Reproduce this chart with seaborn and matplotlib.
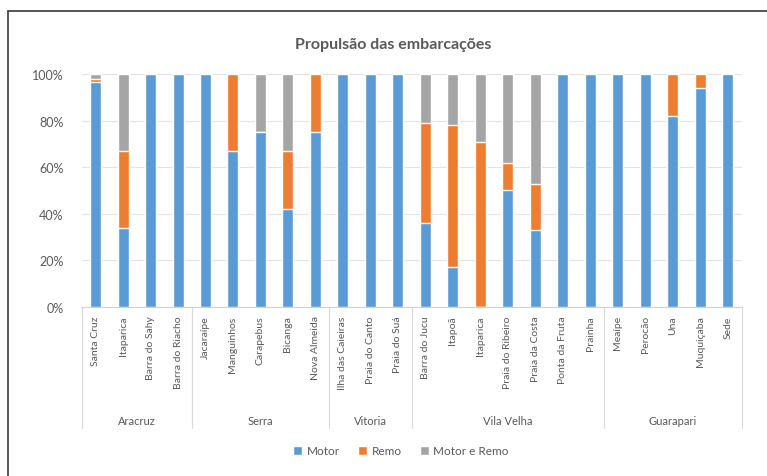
# Propulsao das embarcacoes - stacked 100% bars by locality
import numpy as np
import pandas as pd
import matplotlib.pyplot as plt
from matplotlib.lines import Line2D
from matplotlib.patches import Patch
from matplotlib.ticker import PercentFormatter
import seaborn as sns

# %%
# data (shares, %)
localidades = ['Santa Cruz', 'Itaparica', 'Barra do Sahy', 'Barra do Riacho',
               'Jacaraípe', 'Manguinhos', 'Carapebus', 'Bicanga', 'Nova Almeida',
               'Ilha das Caieiras', 'Praia do Canto', 'Praia do Suá',
               'Barra do Jucu', 'Itapoã', 'Itaparica', 'Praia do Ribeiro',
               'Praia da Costa', 'Ponta da Fruta', 'Prainha',
               'Meaípe', 'Perocão', 'Una', 'Muquiçaba', 'Sede']
municipios = ['Aracruz', 'Serra', 'Vitoria', 'Vila Velha', 'Guarapari']
n_por_municipio = [4, 5, 3, 7, 5]

motor = [96.5, 34, 100, 100, 100, 67, 75, 42, 75, 100, 100, 100,
         36, 17, 0, 50, 33, 100, 100, 100, 100, 82, 94, 100]
remo = [1.3, 33, 0, 0, 0, 33, 0, 25, 25, 0, 0, 0,
        43, 61, 71, 12, 20, 0, 0, 0, 0, 18, 6, 0]
motor_remo = [2.2, 33, 0, 0, 0, 0, 25, 33, 0, 0, 0, 0,
              21, 22, 29, 38, 47, 0, 0, 0, 0, 0, 0, 0]

cores = {'Motor': '#5B9BD5', 'Remo': '#ED7D31', 'Motor e Remo': '#A5A5A5'}
txt = '#595959'

# %%
df = pd.DataFrame({'pos': np.arange(len(localidades)),
                   'motor': motor, 'remo': remo, 'motor_remo': motor_remo})
df['top2'] = df['motor'] + df['remo']
df['top3'] = df['top2'] + df['motor_remo']
for c in ['motor', 'top2', 'top3']:
    df[c] = df[c] / 100

sns.set_style('white')
plt.rcParams['font.family'] = ['Lato', 'DejaVu Sans']

fig = plt.figure(figsize=(7.67, 4.77), dpi=100)
ax = fig.add_axes([0.1066, 0.3543, 0.8604, 0.4885])

# cumulative bars, drawn back to front
sns.barplot(data=df, x='pos', y='top3', color=cores['Motor e Remo'], width=0.4,
            saturation=1, ax=ax, zorder=2)
sns.barplot(data=df, x='pos', y='top2', color=cores['Remo'], width=0.4,
            saturation=1, ax=ax, zorder=3)
sns.barplot(data=df, x='pos', y='motor', color=cores['Motor'], width=0.4,
            saturation=1, ax=ax, zorder=4)

ax.set_xlim(-0.5, len(localidades) - 0.5)
ax.set_ylim(0, 1)
ax.set_yticks(np.arange(0, 1.01, 0.2))
ax.yaxis.set_major_formatter(PercentFormatter(1.0, decimals=0))
ax.grid(axis='y', color='#E3E3E3', linewidth=0.8, zorder=0)
ax.set_axisbelow(True)
for s in ['top', 'right', 'left']:
    ax.spines[s].set_visible(False)
ax.spines['bottom'].set_color('#D0D0D0')
ax.tick_params(axis='y', length=0, pad=13, labelsize=9, labelcolor=txt)
ax.set_xticks(df['pos'])
ax.set_xticklabels(localidades, rotation=90, va='top', ha='center')
ax.tick_params(axis='x', length=0, pad=6, labelsize=7.5, labelcolor=txt)
ax.set(xlabel='', ylabel='')

# second level of the category axis
edges = np.concatenate([[0], np.cumsum(n_por_municipio)]) - 0.5
for e in edges:
    ax.plot([e, e], [0, -0.52], color='#D9D9D9', linewidth=0.8,
            clip_on=False, transform=ax.get_xaxis_transform())
for i, m in enumerate(municipios):
    ax.text((edges[i] + edges[i + 1]) / 2, -0.487, m, ha='center', va='center',
            fontsize=8, color=txt, transform=ax.get_xaxis_transform())

fig.text(0.512, 1 - 45 / 477, 'Propulsão das embarcações', ha='center',
         va='center', fontsize=11.5, fontweight='bold', color=txt)

handles = [Patch(facecolor=v, label=k) for k, v in cores.items()]
fig.legend(handles=handles, loc='center', bbox_to_anchor=(0.523, 1 - 452 / 477),
           ncol=3, frameon=False, fontsize=8.5, handlelength=0.7,
           handleheight=0.7, handletextpad=0.4, columnspacing=1.6,
           labelcolor=txt)

# outer frame (top and left edges only, as in the scan)
fig.add_artist(Line2D([8 / 767, 1], [1 - 12 / 477, 1 - 12 / 477],
                      color='#3A3A3A', linewidth=1.2))
fig.add_artist(Line2D([8 / 767, 8 / 767], [0, 1 - 12 / 477],
                      color='#3A3A3A', linewidth=1.2))

fig.savefig('out.png', dpi=100)
